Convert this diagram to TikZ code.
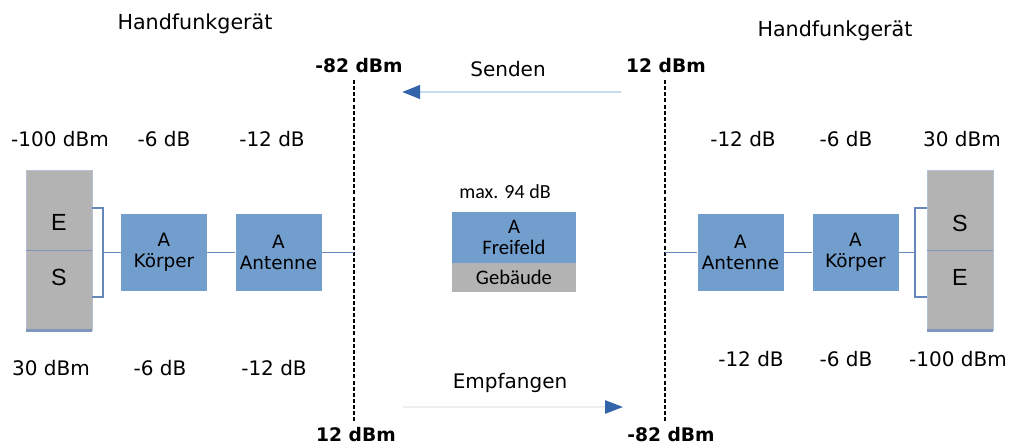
\documentclass[tikz,border=0pt]{standalone}
\usepackage{fontspec}
\setmainfont{DejaVu Sans}
\newfontfamily\calfont{Carlito}
\newfontfamily\arifont{Liberation Sans}
\usetikzlibrary{arrows.meta}
\definecolor{boxblue}{RGB}{114,158,206}
\definecolor{boxgray}{RGB}{179,179,179}
\definecolor{linkblue}{RGB}{100,134,186}
\definecolor{edgeblue}{RGB}{128,150,186}
\definecolor{headblue}{RGB}{50,100,170}
\definecolor{lightarrow}{RGB}{200,218,238}
\definecolor{paleline}{RGB}{238,238,238}
\tikzset{
  lbl/.style={font=\fontsize{15}{18}\selectfont, inner sep=0pt},
  blbl/.style={font=\fontsize{14}{17}\selectfont\bfseries, inner sep=0pt},
  bluebox/.style={fill=boxblue, minimum width=64.5pt, minimum height=57.75pt, inner sep=0pt, align=center, font=\fontsize{13.8}{16}\selectfont},
  devbox/.style={fill=boxgray, draw=edgeblue!60, line width=0.5pt, minimum width=49.5pt, minimum height=120pt, inner sep=0pt},
  devletter/.style={font=\arifont\fontsize{17.5}{20}\selectfont, inner sep=0pt},
  link/.style={draw=linkblue, line width=0.8pt},
  vdash/.style={draw=black, line width=1.5pt, dash pattern=on 3pt off 1.6pt},
  cbox/.style={minimum width=93pt, inner sep=0pt, align=center, font=\calfont\fontsize{15.5}{15.5}\selectfont}
}
\begin{document}
\begin{tikzpicture}[x=0.75pt,y=-0.75pt]
\useasboundingbox (0,0) rectangle (1015,446);

% titles
\node[lbl, font=\fontsize{15.5}{18}\selectfont] (titL) at (195,24) {Handfunkgerät};
\node[lbl, font=\fontsize{15.5}{18}\selectfont] (titR) at (835,31) {Handfunkgerät};

% dashed vertical lines
\coordinate (dT1) at (354,80);
\coordinate (dB1) at (354,421);
\coordinate (dT2) at (665,80);
\coordinate (dB2) at (665,421);
\draw[vdash] (dT1) -- (dB1);
\draw[vdash] (dT2) -- (dB2);

% level labels at the dashed lines
\node[blbl] (lvTL) at (359,66) {-82 dBm};
\node[blbl] (lvTR) at (666,66) {12 dBm};
\node[blbl] (lvBL) at (356,435) {12 dBm};
\node[blbl] (lvBR) at (671,435) {-82 dBm};

% Senden / Empfangen
\node[lbl] (senden) at (508,69) {Senden};
\node[lbl] (empf) at (510,383) {Empfangen};
\coordinate (sS) at (621,92);
\coordinate (sE) at (402,92);
\draw[draw=lightarrow, line width=2.2pt, -{Triangle[length=13.5pt,width=10pt,fill=headblue,color=headblue]}] (sS) -- (sE);
\coordinate (eS) at (403,407);
\coordinate (eE) at (623,407);
\draw[draw=paleline, line width=1.3pt, -{Triangle[length=13.5pt,width=10pt,fill=headblue,color=headblue]}] (eS) -- (eE);

% left device
\node[devbox] (devL) at (59,250) {};
\draw[draw=edgeblue, line width=0.6pt] (devL.west) -- (devL.east);
\draw[draw=edgeblue, line width=1.8pt] (devL.south west) -- (devL.south east);
\node[devletter] (eL) at (59,222) {E};
\node[devletter] (sL) at (59,277) {S};

% right device
\node[devbox] (devR) at (960,250) {};
\draw[draw=edgeblue, line width=0.6pt] (devR.west) -- (devR.east);
\draw[draw=edgeblue, line width=1.8pt] (devR.south west) -- (devR.south east);
\node[devletter] (sR) at (960,223) {S};
\node[devletter] (eR) at (960,277) {E};

% left chain
\node[bluebox] (korL) at (164,252.5) {A\\Körper};
\node[bluebox] (antL) at (278.5,252.5) {A\\Antenne};
\coordinate (bL1) at (92,208);
\coordinate (bL2) at (103,208);
\coordinate (bL3) at (103,297);
\coordinate (bL4) at (92,297);
\coordinate (bLm) at (103,252.5);
\draw[link] (bL1) -- (bL2) -- (bL3) -- (bL4);
\draw[link] (bLm) -- (korL.west);
\draw[link] (korL.east) -- (antL.west);
\draw[link] (antL.east) -- (dT1 |- antL.east);

% right chain
\node[bluebox] (antR) at (740.5,252.5) {A\\Antenne};
\node[bluebox] (korR) at (855.5,252.5) {A\\Körper};
\coordinate (bR1) at (927,208);
\coordinate (bR2) at (915,208);
\coordinate (bR3) at (915,297);
\coordinate (bR4) at (927,297);
\coordinate (bRm) at (915,252.5);
\draw[link] (bR1) -- (bR2) -- (bR3) -- (bR4);
\draw[link] (korR.east) -- (bRm);
\draw[link] (antR.east) -- (korR.west);
\draw[link] (dT2 |- antR.west) -- (antR.west);

% centre
\node[cbox, fill=boxblue, minimum height=38.25pt] (free) at (514,237.5) {A\\Freifeld};
\node[cbox, fill=boxgray, minimum height=21.75pt] (geb) at (514,277.5) {Gebäude};
\node[inner sep=0pt, font=\calfont\fontsize{15}{15}\selectfont] (max) at (505,192) {max. 94 dB};

% attenuation labels
\node[lbl] (l1) at (60,139) {-100 dBm};
\node[lbl] (l2) at (164,139) {-6 dB};
\node[lbl] (l3) at (272,139) {-12 dB};
\node[lbl] (l4) at (51,368) {30 dBm};
\node[lbl] (l5) at (160,368) {-6 dB};
\node[lbl] (l6) at (274,368) {-12 dB};
\node[lbl] (r1) at (743,139) {-12 dB};
\node[lbl] (r2) at (846,139) {-6 dB};
\node[lbl] (r3) at (962,139) {30 dBm};
\node[lbl] (r4) at (751,359) {-12 dB};
\node[lbl] (r5) at (846,359) {-6 dB};
\node[lbl] (r6) at (958,359) {-100 dBm};
\end{tikzpicture}
\end{document}
